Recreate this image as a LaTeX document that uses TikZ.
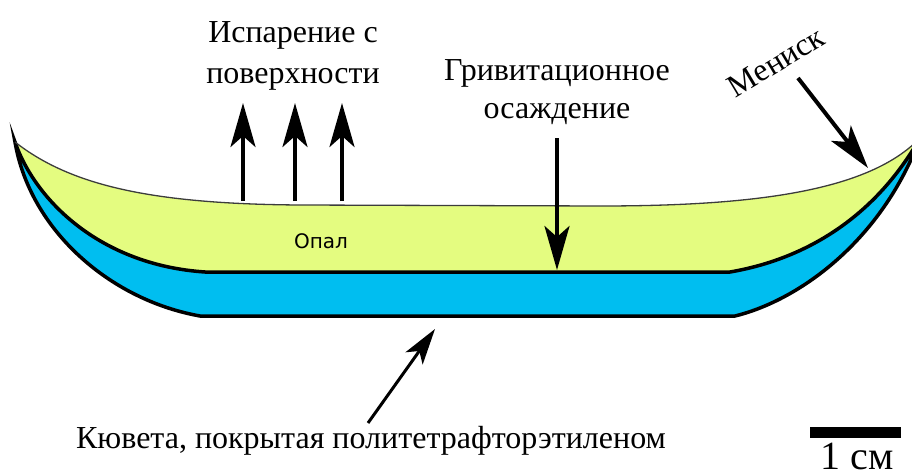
\documentclass[tikz,border=0pt]{standalone}
\usepackage{fontspec}
\setmainfont{Liberation Serif}
\newfontfamily\opalfont{DejaVu Sans}
\usetikzlibrary{arrows.meta}
\definecolor{opalYellow}{RGB}{228,252,128}
\definecolor{cuvetteBlue}{RGB}{0,190,240}
\definecolor{surfaceGray}{RGB}{60,60,60}

\begin{document}
\begin{tikzpicture}[x=1pt,y=-1pt,
    caption/.style={font=\fontsize{32}{41}\selectfont,align=center,inner sep=0pt},
    flow/.style={line width=4pt,-{Stealth[length=44pt,width=25pt,inset=11pt]}}]
  \useasboundingbox (0,0) rectangle (912,476);
  \clip (0,0) rectangle (912,476);
  % teflon-coated cuvette wall
  \fill[cuvetteBlue] (15,142) .. controls (30,230) and (110,300) .. (200,316)
    -- (735,316) .. controls (800,300) and (882,240) .. (920,138)
    .. controls (872,222) and (800,260) .. (730,272)
    -- (205,272) .. controls (100,265) and (35,200) .. (15,142) -- cycle;
  % opal layer with the meniscus on top
  \fill[opalYellow] (15,142) .. controls (70,185) and (150,204) .. (300,205)
    -- (600,206) .. controls (760,206) and (870,190) .. (920,138)
    .. controls (872,222) and (800,260) .. (730,272)
    -- (205,272) .. controls (100,265) and (35,200) .. (15,142) -- cycle;
  \draw[black,line width=3.5pt,line join=miter,miter limit=20]
    (15,142) .. controls (30,230) and (110,300) .. (200,316)
    -- (735,316) .. controls (800,300) and (882,240) .. (920,138)
    .. controls (872,222) and (800,260) .. (730,272)
    -- (205,272) .. controls (100,265) and (35,200) .. (15,142) -- cycle;
  \draw[surfaceGray,line width=1.3pt] (15,142) .. controls (70,185) and (150,204) .. (300,205)
    -- (600,206) .. controls (760,206) and (870,190) .. (920,138);
  \node[font=\opalfont\fontsize{20}{24}\selectfont] (opal) at (321,241) {Опал};

  % evaporation from the surface
  \node[caption] (evap) at (293,56) {Испарение с\\поверхности};
  \coordinate (e1) at (243,201);
  \coordinate (e2) at (295,201);
  \coordinate (e3) at (342,201);
  \draw[flow] (e1) -- ++(0,-98);
  \draw[flow] (e2) -- ++(0,-98);
  \draw[flow] (e3) -- ++(0,-98);

  % settling under gravity
  \node[caption,font=\fontsize{32}{38}\selectfont] (grav) at (557,92) {Гривитационное\\осаждение};
  \coordinate (g0) at (557,138);
  \coordinate (g1) at (557,270);
  \draw[flow] (g0) -- (g1);

  % meniscus
  \node[caption,rotate=31] (men) at (776,62) {Мениск};
  \coordinate (m0) at (798,78);
  \coordinate (m1) at (868,168);
  \draw[flow] (m0) -- (m1);

  % cuvette
  \node[caption,anchor=base] (cuv) at (371,448) {Кювета, покрытая политетрафторэтиленом};
  \coordinate (c0) at (368,423);
  \coordinate (c1) at (435,329);
  \draw[line width=3pt,-{Stealth[length=36pt,width=21pt,inset=9pt]}] (c0) -- (c1);

  % scale bar
  \fill[black] (810,427) rectangle (901,438);
  \node[font=\fontsize{40}{44}\selectfont,anchor=base,inner sep=0pt] (scale) at (857,469) {1 см};
\end{tikzpicture}
\end{document}
